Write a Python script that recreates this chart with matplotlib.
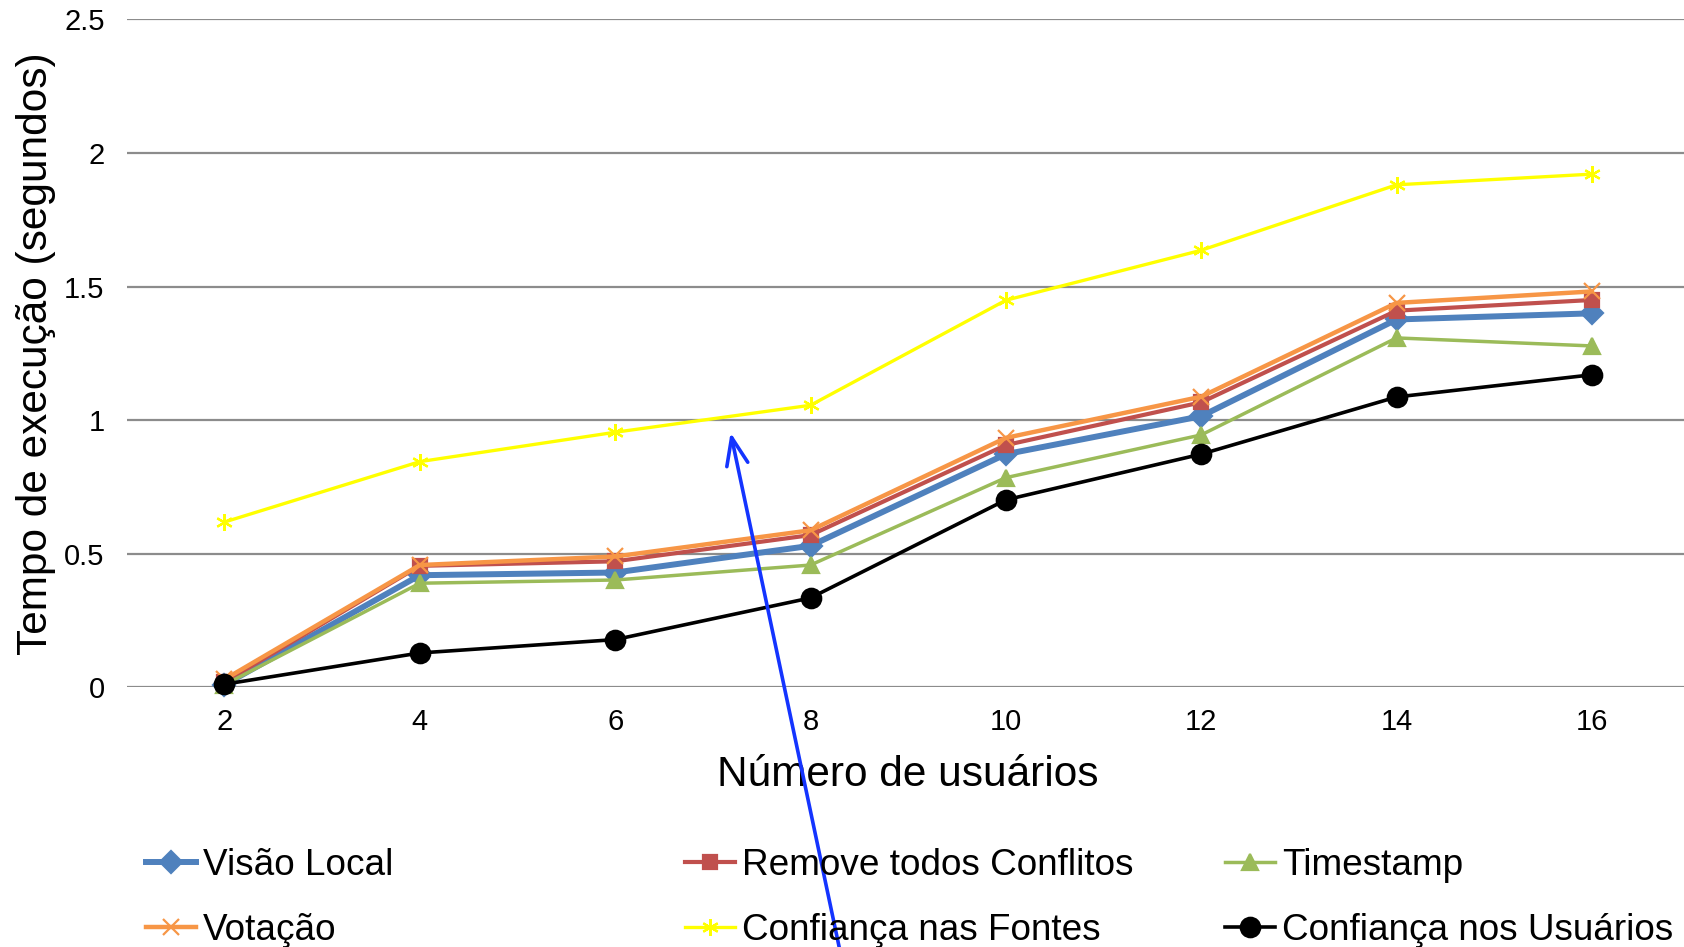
import matplotlib.pyplot as plt
from matplotlib.patches import FancyArrowPatch

plt.rcParams["font.family"] = ["Liberation Sans", "DejaVu Sans"]

usuarios = [2, 4, 6, 8, 10, 12, 14, 16]

visao_local = [0.01, 0.42, 0.43, 0.53, 0.873, 1.015, 1.377, 1.40]
remove_conflitos = [0.02, 0.455, 0.472, 0.57, 0.907, 1.067, 1.41, 1.45]
timestamp = [0.01, 0.39, 0.402, 0.458, 0.785, 0.945, 1.308, 1.278]
votacao = [0.03, 0.458, 0.49, 0.588, 0.934, 1.088, 1.439, 1.482]
confianca_fontes = [0.619, 0.845, 0.955, 1.056, 1.449, 1.636, 1.881, 1.921]
confianca_usuarios = [0.012, 0.129, 0.179, 0.335, 0.702, 0.873, 1.087, 1.17]

yticks = [0, 0.5, 1, 1.5, 2, 2.5]
ytick_labels = ["0", "0.5", "1", "1.5", "2", "2.5"]

series = [
    ("Visão Local", visao_local, "#4F81BD", "D", 4.3, 11),
    ("Remove todos Conflitos", remove_conflitos, "#C0504D", "s", 3.0, 10),
    ("Timestamp", timestamp, "#9BBB59", "^", 2.5, 11),
    ("Votação", votacao, "#F79646", "x", 3.2, 11),
    ("Confiança nas Fontes", confianca_fontes, "#FFFF00", (6, 2, 0), 2.4, 12),
    ("Confiança nos Usuários", confianca_usuarios, "#000000", "o", 2.6, 14),
]

fig = plt.figure(figsize=(16.84, 9.47), dpi=100)
ax = fig.add_axes([0.0753, 0.2741, 0.928, 0.7054])

handles = {}
for label, values, color, marker, lw, ms in series:
    (line,) = ax.plot(
        usuarios, values, color=color, marker=marker, linewidth=lw,
        markersize=ms, markeredgewidth=1.6, markerfacecolor=color,
        markeredgecolor=color, label=label, clip_on=False,
    )
    handles[label] = line

ax.set_xlim(1, 17)
ax.set_ylim(0, 2.5)
ax.set_xticks(usuarios)
ax.set_xticklabels([str(u) for u in usuarios], fontsize=21)
ax.set_yticks(yticks)
ax.set_yticklabels(ytick_labels, fontsize=21)
ax.tick_params(length=0)
ax.tick_params(axis="x", pad=15)
ax.tick_params(axis="y", pad=16)
ax.grid(axis="y", color="#8c8c8c", linewidth=1.6)
ax.set_axisbelow(True)
for s in ax.spines.values():
    s.set_visible(False)

ax.set_ylabel("Tempo de execução (segundos)", fontsize=30.5)
ax.yaxis.set_label_coords(-0.045, 0.5)
ax.set_xlabel("Número de usuários", fontsize=30.5)
ax.xaxis.set_label_coords(0.5, -0.101)

# legenda: 2 linhas x 3 colunas, colunas com larguras desiguais
col_x = [0.0867, 0.4068, 0.7274]
row_y = [0.0863, 0.0177]
order = [
    ["Visão Local", "Remove todos Conflitos", "Timestamp"],
    ["Votação", "Confiança nas Fontes", "Confiança nos Usuários"],
]
for r, row in enumerate(order):
    for c, label in enumerate(row):
        fig.legend(
            [handles[label]], [label], loc="center left",
            bbox_to_anchor=(col_x[c], row_y[r]), frameon=False,
            fontsize=26.6, handlelength=1.35, handletextpad=0.2,
            borderpad=0, borderaxespad=0,
        )

# seta azul
fig.add_artist(FancyArrowPatch(
    (0.4995, -0.01), (0.4335, 0.546), transform=fig.transFigure,
    arrowstyle="->,head_length=0.9,head_width=0.35", mutation_scale=22,
    color="#1434FF", linewidth=2.6,
))

fig.savefig("out.png", dpi=100)
